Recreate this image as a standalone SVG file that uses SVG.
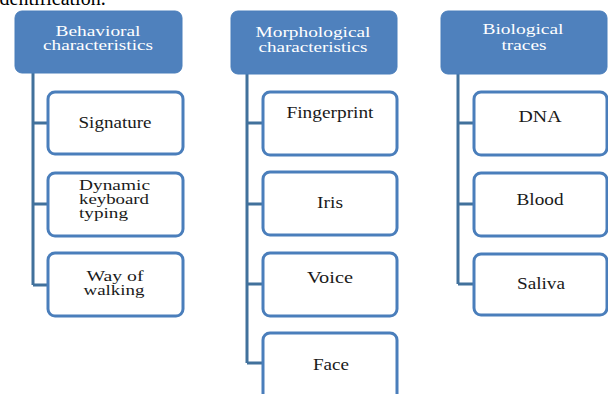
<svg xmlns="http://www.w3.org/2000/svg" width="608" height="394" viewBox="0 0 608 394">
<style>
.hdr{fill:#4f81bd;stroke:#4a7ebb;stroke-width:1}
.box{fill:#ffffff;stroke:#4a7ebb;stroke-width:3}
.ht{font-family:"Liberation Serif","Times New Roman",serif;font-size:14px;fill:#ffffff;text-anchor:middle}
.ct{font-family:"Liberation Serif","Times New Roman",serif;font-size:17px;fill:#1a1a1a;text-anchor:middle}
.cm{font-family:"Liberation Serif","Times New Roman",serif;font-size:14px;fill:#1a1a1a;text-anchor:middle}
.cl{font-family:"Liberation Serif","Times New Roman",serif;font-size:14px;fill:#1a1a1a}
.con{fill:none;stroke:#41719c;stroke-width:3}
</style>
<rect width="608" height="394" fill="#ffffff"/>
<text x="-6" y="5" font-family="Liberation Serif, serif" font-size="20" fill="#000">identification.</text>
<g id="connectors">
<path class="con" d="M33 73 V285 M33 123 H48 M33 204 H48 M33 285 H48"/>
<path class="con" d="M247 74 V363 M247 123 H263 M247 204 H263 M247 284 H263 M247 363 H263"/>
<path class="con" d="M458 74 V284 M458 123 H474 M458 204 H474 M458 284 H474"/>
</g>
<g id="behavioral">
<rect class="hdr" x="15" y="11" width="167" height="62" rx="7"/>
<text class="ht" x="98" y="36" textLength="85" lengthAdjust="spacingAndGlyphs">Behavioral</text>
<text class="ht" x="98" y="50" textLength="110" lengthAdjust="spacingAndGlyphs">characteristics</text>
</g>
<g id="morphological">
<rect class="hdr" x="231" y="11" width="166" height="63" rx="7"/>
<text class="ht" x="313" y="37" textLength="115" lengthAdjust="spacingAndGlyphs">Morphological</text>
<text class="ht" x="313" y="52" textLength="109" lengthAdjust="spacingAndGlyphs">characteristics</text>
</g>
<g id="biological">
<rect class="hdr" x="441" y="11" width="166" height="63" rx="7"/>
<text class="ht" x="523" y="34" textLength="81" lengthAdjust="spacingAndGlyphs">Biological</text>
<text class="ht" x="524" y="50" textLength="45" lengthAdjust="spacingAndGlyphs">traces</text>
</g>
<g id="signature">
<rect class="box" x="48" y="92" width="135" height="62" rx="7"/>
<text class="ct" x="115" y="128" textLength="73" lengthAdjust="spacingAndGlyphs">Signature</text>
</g>
<g id="dynamic">
<rect class="box" x="48" y="173" width="135" height="63" rx="7"/>
<text class="cl" x="79" y="190" textLength="71" lengthAdjust="spacingAndGlyphs">Dynamic</text>
<text class="cl" x="79" y="204" textLength="70" lengthAdjust="spacingAndGlyphs">keyboard</text>
<text class="cl" x="79" y="218" textLength="49" lengthAdjust="spacingAndGlyphs">typing</text>
</g>
<g id="walking">
<rect class="box" x="48" y="253" width="135" height="63" rx="7"/>
<text class="cm" x="115" y="281" textLength="57" lengthAdjust="spacingAndGlyphs">Way of</text>
<text class="cm" x="114" y="295" textLength="61" lengthAdjust="spacingAndGlyphs">walking</text>
</g>
<g id="fingerprint">
<rect class="box" x="263" y="92" width="134" height="63" rx="7"/>
<text class="ct" x="330" y="118" textLength="87" lengthAdjust="spacingAndGlyphs">Fingerprint</text>
</g>
<g id="iris">
<rect class="box" x="263" y="172" width="134" height="63" rx="7"/>
<text class="ct" x="330" y="208" textLength="26" lengthAdjust="spacingAndGlyphs">Iris</text>
</g>
<g id="voice">
<rect class="box" x="263" y="253" width="134" height="63" rx="7"/>
<text class="ct" x="330" y="283" textLength="46" lengthAdjust="spacingAndGlyphs">Voice</text>
</g>
<g id="face">
<rect class="box" x="263" y="333" width="134" height="70" rx="7"/>
<text class="ct" x="331" y="370" textLength="36" lengthAdjust="spacingAndGlyphs">Face</text>
</g>
<g id="dna">
<rect class="box" x="474" y="92" width="133" height="63" rx="7"/>
<text class="ct" x="540" y="122" textLength="43" lengthAdjust="spacingAndGlyphs">DNA</text>
</g>
<g id="blood">
<rect class="box" x="474" y="173" width="133" height="63" rx="7"/>
<text class="ct" x="540" y="205" textLength="47" lengthAdjust="spacingAndGlyphs">Blood</text>
</g>
<g id="saliva">
<rect class="box" x="474" y="254" width="133" height="61" rx="7"/>
<text class="ct" x="541" y="289" textLength="48" lengthAdjust="spacingAndGlyphs">Saliva</text>
</g>
</svg>
